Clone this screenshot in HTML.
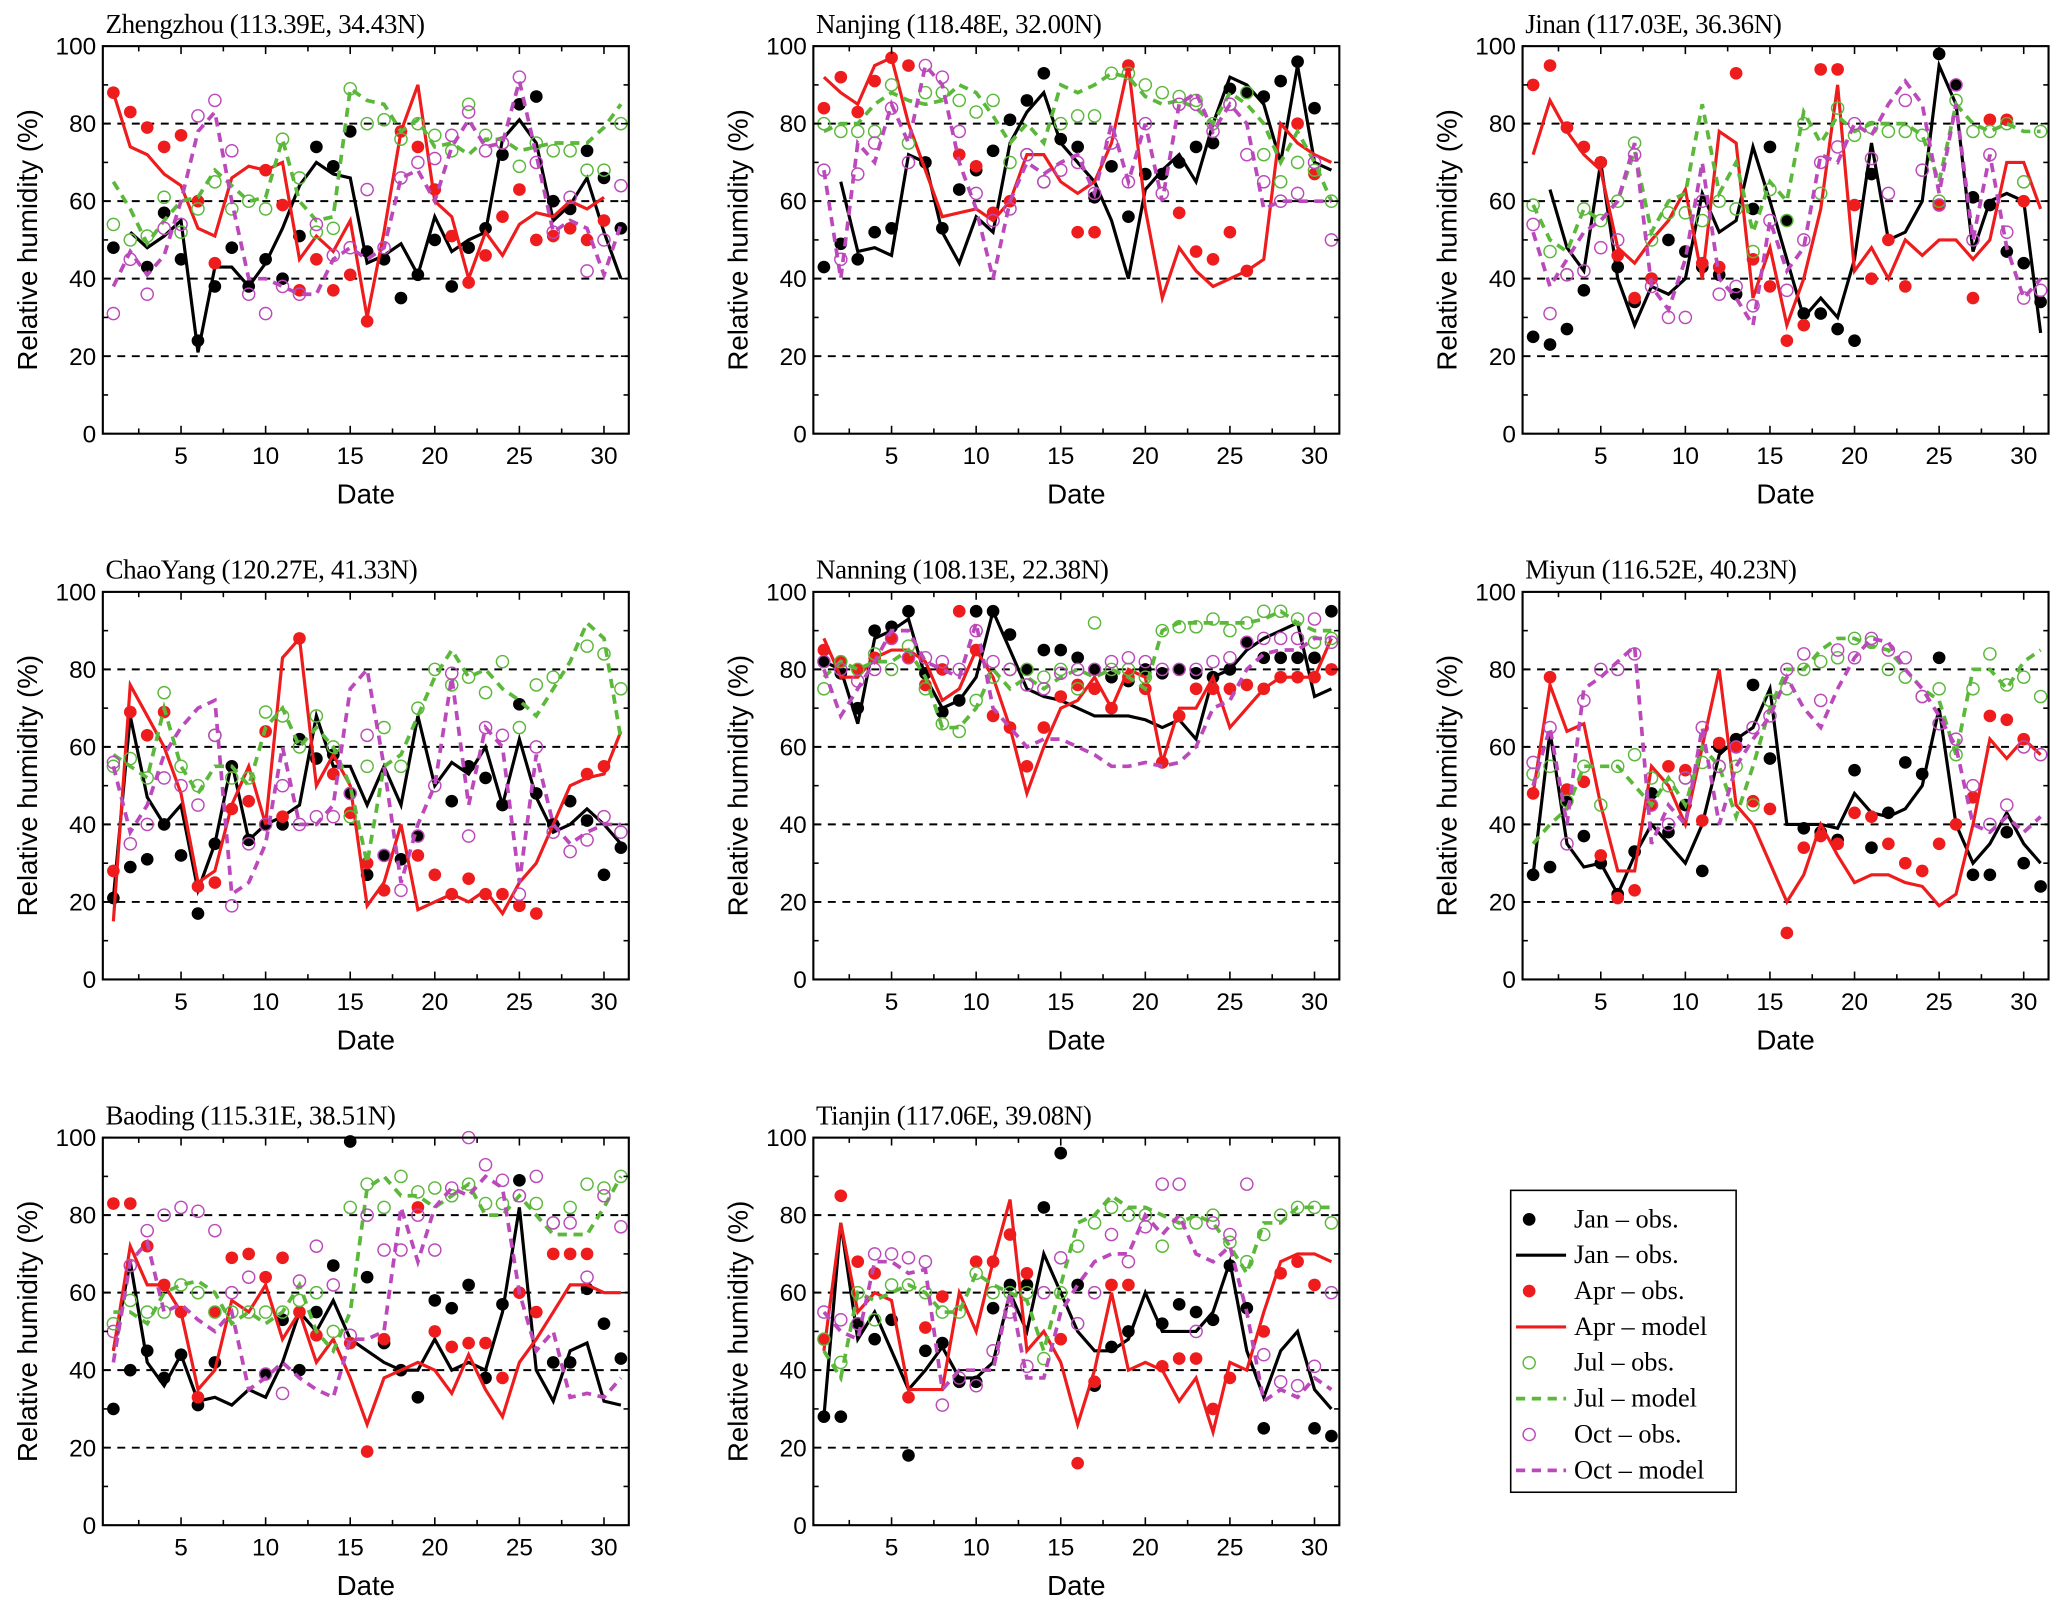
<!DOCTYPE html>
<html><head><meta charset="utf-8">
<style>
html,body{margin:0;padding:0;background:#fff;}
svg{display:block;}
.tk{font-family:"Liberation Sans",Arial,sans-serif;font-size:18.5px;fill:#000;}
.ttl{font-family:"Liberation Serif","Times New Roman",serif;font-size:20.5px;fill:#000;letter-spacing:-0.3px;}
.lg{font-family:"Liberation Serif","Times New Roman",serif;font-size:20px;fill:#000;}
</style></head>
<body>
<svg id="chart" width="2067" height="1618" viewBox="0 0 1568 1227.4" xmlns="http://www.w3.org/2000/svg"></svg>
<script>
const stations=["Zhengzhou (113.39E, 34.43N)","Nanjing (118.48E, 32.00N)","Jinan (117.03E, 36.36N)","ChaoYang (120.27E, 41.33N)","Nanning (108.13E, 22.38N)","Miyun (116.52E, 40.23N)","Baoding (115.31E, 38.51N)","Tianjin (117.06E, 39.08N)"];
const yTicks=[0,20,40,60,80,100];
const xTicks=[5,10,15,20,25,30];
const janObs=[
[48,null,43,57,45,24,38,48,38,45,40,51,74,69,78,47,45,35,41,50,38,48,53,72,85,87,60,58,73,66,53],
[43,49,45,52,53,null,70,53,63,68,73,81,86,93,76,74,61,69,56,67,67,70,74,75,89,88,87,91,96,84,null],
[25,23,27,37,70,43,34,40,50,47,43,41,36,58,74,55,31,31,27,24,67,null,null,null,98,90,61,59,47,44,34],
[21,29,31,40,32,17,35,55,36,40,40,62,57,58,48,27,32,31,37,null,46,55,52,45,71,48,40,46,41,27,34],
[82,79,70,90,91,95,79,69,72,95,95,89,80,85,85,83,80,78,77,80,79,80,79,78,80,87,83,83,83,83,95],
[27,29,46,37,30,22,33,48,38,45,28,60,62,76,57,null,39,38,36,54,34,43,56,53,83,null,27,27,38,30,24],
[30,40,45,38,44,31,42,null,null,39,53,40,55,67,99,64,47,40,33,58,56,62,38,57,89,null,42,42,61,52,43],
[28,28,52,48,53,18,45,47,37,37,56,62,62,82,96,62,36,46,50,null,52,57,55,53,67,56,25,null,null,25,23]];
const janModel=[
[null,52,48,51,55,21,43,43,38,44,53,64,70,67,66,44,46,49,41,56,47,50,52,76,81,75,55,59,66,52,40],
[null,65,47,48,46,72,70,52,44,56,52,75,83,88,75,70,65,55,40,63,68,72,65,80,92,90,85,70,95,70,68],
[null,63,48,42,70,40,28,38,36,40,62,52,55,74,60,45,30,35,30,45,75,50,52,60,95,85,47,60,62,60,26],
[21,68,47,40,45,23,35,56,36,40,42,45,68,55,55,45,55,45,68,50,56,53,60,45,62,47,38,40,44,40,35],
[82,80,66,88,90,93,78,70,72,78,95,85,75,73,72,70,68,68,68,67,65,67,62,78,80,85,88,90,92,73,75],
[27,64,35,29,30,22,32,40,35,30,40,58,62,65,75,40,40,40,39,48,43,42,44,50,70,40,30,35,43,35,30],
[45,68,42,36,44,32,33,31,35,33,42,55,50,58,48,45,42,40,40,48,40,42,40,55,82,40,32,45,47,32,31],
[28,78,48,55,45,35,40,46,38,38,42,60,50,70,60,50,45,45,48,60,50,50,50,55,68,45,33,45,50,35,30]];
const aprObs=[
[88,83,79,74,77,60,44,null,null,68,59,37,45,37,41,29,null,78,74,63,51,39,46,56,63,50,51,53,50,55,null],
[84,92,83,91,97,95,null,null,72,69,57,60,null,null,null,52,52,null,95,null,null,57,47,45,52,42,null,null,80,67,null],
[90,95,79,74,70,46,35,40,null,null,44,43,93,45,38,24,28,94,94,59,40,50,38,null,59,null,35,81,81,60,null],
[28,69,63,69,null,24,25,44,46,64,42,88,null,53,43,30,23,null,32,27,22,26,22,22,19,17,null,null,53,55,null],
[85,82,80,83,88,83,76,80,95,85,68,65,55,65,73,76,75,70,78,75,56,68,75,75,75,76,75,78,78,78,80],
[48,78,49,51,32,21,23,45,55,54,41,61,60,46,44,12,34,37,35,43,42,35,30,28,35,40,47,68,67,62,null],
[83,83,72,62,55,33,55,69,70,64,69,55,49,null,47,19,48,null,82,50,46,47,47,38,60,55,70,70,70,null,null],
[48,85,68,65,null,33,51,59,null,68,68,75,65,null,48,16,37,62,62,null,41,43,43,30,38,null,50,65,68,62,null]];
const aprModel=[
[88,74,72,67,64,53,51,66,69,68,70,45,51,47,55,30,52,78,90,60,56,40,52,46,54,57,56,60,58,61,null],
[92,88,85,95,97,80,68,56,57,58,55,60,72,72,65,62,65,75,95,58,35,48,42,38,40,42,45,80,75,72,70],
[72,86,78,72,68,48,44,50,55,63,40,78,75,35,48,28,40,58,90,42,48,40,50,46,50,50,45,50,70,70,58],
[15,76,68,60,48,25,28,45,55,40,83,88,50,58,50,19,25,40,18,20,22,20,23,17,25,30,40,50,52,53,64],
[88,78,78,83,85,85,82,72,75,85,78,65,48,60,70,72,78,70,80,78,56,70,70,78,65,70,75,78,78,78,88],
[48,76,64,66,45,28,28,55,50,40,60,80,45,40,30,20,27,40,32,25,27,27,25,24,19,22,40,62,57,62,58],
[45,72,62,62,55,35,40,58,55,62,48,55,42,48,38,26,38,40,42,40,34,44,35,28,42,48,55,62,62,60,60],
[45,78,55,60,58,35,35,35,60,50,68,84,45,50,42,26,40,60,40,42,40,32,38,24,42,40,55,68,70,70,68]];
const julObs=[
[54,50,51,61,52,58,65,58,60,58,76,66,52,53,89,80,81,76,80,77,73,85,77,75,69,75,73,73,68,68,80],
[80,78,78,78,90,75,88,88,86,83,86,70,72,65,80,82,82,93,93,90,88,87,86,80,85,88,72,65,70,68,60],
[59,47,41,58,55,60,75,50,57,57,55,60,58,47,63,55,80,62,84,77,79,78,78,77,60,86,78,78,80,65,78],
[55,57,52,74,55,50,63,52,52,69,68,60,68,60,42,55,65,55,70,80,76,78,74,82,65,76,78,null,86,84,75],
[75,82,80,84,80,86,75,66,64,72,78,80,80,78,80,75,92,80,80,78,90,91,91,93,90,92,95,95,93,87,88],
[53,55,46,55,45,55,58,52,50,52,56,55,55,45,72,75,80,82,83,88,87,80,78,73,75,58,75,84,76,78,73],
[52,58,55,55,62,60,55,55,55,55,55,58,60,50,82,88,82,90,86,87,85,88,83,83,85,83,78,82,88,87,90],
[48,42,60,53,62,62,60,55,55,65,60,60,60,43,60,72,78,82,80,80,72,78,78,80,73,68,75,80,82,82,78]];
const julModel=[
[65,58,49,55,60,61,68,64,60,61,76,60,55,56,89,86,85,78,81,74,75,72,76,76,73,74,75,75,75,79,85],
[78,80,80,85,88,86,85,86,90,88,82,75,80,75,90,88,90,93,92,87,85,86,84,80,88,85,80,70,78,70,60],
[59,50,47,58,55,60,73,52,60,62,85,62,70,52,65,60,83,75,82,78,80,80,80,77,65,85,80,78,80,78,78],
[58,55,52,70,55,48,55,55,50,65,70,60,65,60,50,30,55,58,68,78,85,78,80,75,72,68,75,82,92,88,62],
[78,82,80,82,82,85,78,65,65,70,80,75,78,75,78,80,78,80,78,75,90,92,92,92,92,92,93,95,92,90,90],
[35,40,44,55,55,55,50,45,52,45,60,55,42,55,70,80,80,85,88,88,86,85,80,75,72,58,80,80,75,82,85],
[55,55,52,60,62,63,60,52,55,52,55,62,50,45,55,87,90,85,85,82,85,88,80,80,85,80,75,75,75,82,90],
[45,38,60,58,60,62,60,55,55,65,62,60,58,45,62,78,80,85,82,82,80,78,80,78,72,65,78,78,82,82,82]];
const octObs=[
[31,45,36,53,54,82,86,73,36,31,38,36,54,46,48,63,48,66,70,71,77,83,73,75,92,70,52,61,42,50,64],
[68,45,67,75,84,70,95,92,78,62,55,58,72,65,68,70,62,75,65,80,62,85,85,78,85,72,65,60,62,70,50],
[54,31,41,42,48,50,72,38,30,30,60,36,38,33,55,37,50,70,74,80,71,62,86,68,59,90,50,72,52,35,37],
[56,35,40,52,50,45,63,19,35,40,50,40,42,42,48,63,32,23,37,50,79,37,65,63,22,60,38,33,36,42,38],
[82,80,77,80,88,83,83,82,80,90,82,80,76,75,79,80,80,82,83,82,80,80,80,82,83,87,88,88,88,93,87],
[56,65,35,72,80,80,84,45,40,52,65,55,60,65,68,80,84,72,85,83,88,85,83,73,66,62,50,40,45,60,58],
[50,67,76,80,82,81,76,60,64,39,34,63,72,62,49,80,71,71,80,71,87,100,93,89,85,90,78,78,64,85,77],
[55,53,52,70,70,69,68,31,38,36,45,55,41,60,69,52,60,75,68,77,88,88,50,78,75,88,44,37,36,41,60]];
const octModel=[
[38,47,41,46,60,78,83,60,40,40,38,36,36,45,48,45,48,66,68,60,74,81,74,75,91,72,52,55,53,41,54],
[68,40,75,70,85,75,95,90,70,58,40,60,70,67,70,72,62,80,65,80,60,85,88,78,85,80,58,60,60,60,60],
[52,38,45,52,55,60,75,38,32,45,70,40,35,28,55,42,48,72,70,80,77,85,91,85,62,85,50,72,48,35,40],
[55,38,45,58,65,70,72,22,25,35,60,40,40,45,75,80,55,25,40,50,78,45,65,60,25,58,40,35,38,40,40],
[80,68,75,82,90,90,82,80,78,92,70,65,60,62,62,60,58,55,55,56,55,56,60,70,72,80,84,85,85,88,88],
[50,65,40,75,78,82,86,35,45,40,65,40,55,62,68,78,70,65,75,83,88,87,80,75,68,60,40,38,42,38,42],
[42,68,73,55,57,53,50,55,35,38,42,38,35,33,48,48,50,82,68,82,87,85,90,87,60,45,50,33,34,33,38],
[55,50,48,68,68,65,66,35,40,40,40,60,38,38,55,62,68,70,70,80,75,80,70,68,72,55,32,35,33,38,35]];

const NS="http://www.w3.org/2000/svg";
const svg=document.getElementById("chart");
function mk(tag,attrs,parent){const e=document.createElementNS(NS,tag);for(const k in attrs)e.setAttribute(k,attrs[k]);(parent||svg).appendChild(e);return e;}
const colLeft=[78,617,1155], rowTop=[35,449,863], W=399, H=294;
const series=[
 {obs:janObs,mod:janModel,c:"#000",fill:true,dash:null,n:"jan"},
 {obs:aprObs,mod:aprModel,c:"#ee1c1c",fill:true,dash:null,n:"apr"},
 {obs:julObs,mod:julModel,c:"#5bb83a",fill:false,dash:"7,5",n:"jul"},
 {obs:octObs,mod:octModel,c:"#bb49bb",fill:false,dash:"7,5",n:"oct"}];
stations.forEach((name,si)=>{
 const x0=colLeft[si%3], y0=rowTop[Math.floor(si/3)];
 const g=mk("g",{});
 
 
 const xs=d=>x0+8+(d-1)*(W-14)/30;
 const ys=v=>y0+H-v*H/100;
 [20,40,60,80].forEach(v=>{const l=mk("line",{x1:x0,x2:x0+W,y1:ys(v),y2:ys(v),stroke:"#000","stroke-width":1.5,"stroke-dasharray":"6,5"},g);
  
  });
 series.forEach(s=>{
  const mv=s.mod[si]; let p="";let pen=false;
  mv.forEach((v,i)=>{if(v==null){pen=false;return;}p+=(pen?"L":"M")+xs(i+1).toFixed(1)+","+ys(v).toFixed(1);pen=true;});
  const pa=mk("path",{d:p,fill:"none",stroke:s.c,"stroke-width":s.dash?2.8:2.4,"stroke-linejoin":"miter"},g);
  if(s.dash)pa.setAttribute("stroke-dasharray",s.dash);
  
  
  s.obs[si].forEach((v,i)=>{if(v==null)return;
   const c=mk("circle",{cx:xs(i+1),cy:ys(v),r:s.fill?4.8:4.6,fill:s.fill?s.c:"none",stroke:s.c,"stroke-width":s.fill?0:1.1},g);
   
   });
 });
 const fr=mk("rect",{x:x0,y:y0,width:W,height:H,fill:"none",stroke:"#000","stroke-width":1.6},g);
 
 
 for(let v=0;v<=100;v+=10){const len=v%20==0?6:4;
  mk("line",{x1:x0,x2:x0+len,y1:ys(v),y2:ys(v),stroke:"#000","stroke-width":1.2},g);
  mk("line",{x1:x0+W,x2:x0+W-len,y1:ys(v),y2:ys(v),stroke:"#000","stroke-width":1.2},g);}
 for(let d=2.5;d<=31;d+=2.5){const len=d%5==0?6:4;
  mk("line",{x1:xs(d),x2:xs(d),y1:y0+H,y2:y0+H-len,stroke:"#000","stroke-width":1.2},g);
  mk("line",{x1:xs(d),x2:xs(d),y1:y0,y2:y0+len,stroke:"#000","stroke-width":1.2},g);}
 yTicks.forEach(v=>{const t=mk("text",{x:x0-5,y:ys(v)+6.5,"text-anchor":"end",class:"tk"},g);t.textContent=v;
  
  });
 xTicks.forEach(d=>{const t=mk("text",{x:xs(d),y:y0+H+23,"text-anchor":"middle",class:"tk"},g);t.textContent=d;
  
  });
 const tt=mk("text",{x:x0+2,y:y0-10,class:"ttl"},g);tt.textContent=name;
 
 
 const xl=mk("text",{x:x0+W/2,y:y0+H+53,"text-anchor":"middle",class:"tk",style:"font-size:21px"},g);xl.textContent="Date";
 
 
 const yl=mk("text",{x:0,y:0,"text-anchor":"middle",class:"tk",style:"font-size:21px",transform:`translate(${x0-50},${y0+H/2}) rotate(-90)`},g);yl.textContent="Relative humidity (%)";
 
 
});
const lg=mk("g",{});


mk("rect",{x:1146,y:903,width:171,height:229,fill:"#fff",stroke:"#000","stroke-width":1.2},lg);
const legendLabels=["Jan – obs.","Jan – obs.","Apr – obs.","Apr – model","Jul – obs.","Jul – model","Oct – obs.","Oct – model"];
legendLabels.forEach((lab,i)=>{
 const s=series[Math.floor(i/2)]; const y=930+i*27.2;
 const e=mk("g",{},lg);
 
 
 if(i%2==0){mk("circle",{cx:1160,cy:y-5,r:s.fill?4.8:4.6,fill:s.fill?s.c:"none",stroke:s.c,"stroke-width":s.fill?0:1.1},e);}
 else{const l=mk("line",{x1:1150,x2:1188,y1:y-5,y2:y-5,stroke:s.c,"stroke-width":s.dash?2.8:2.4},e);if(s.dash)l.setAttribute("stroke-dasharray","7,5");}
 const t=mk("text",{x:1194,y:y+1,class:"lg"},e);t.textContent=lab;
});
</script>
</body></html>
